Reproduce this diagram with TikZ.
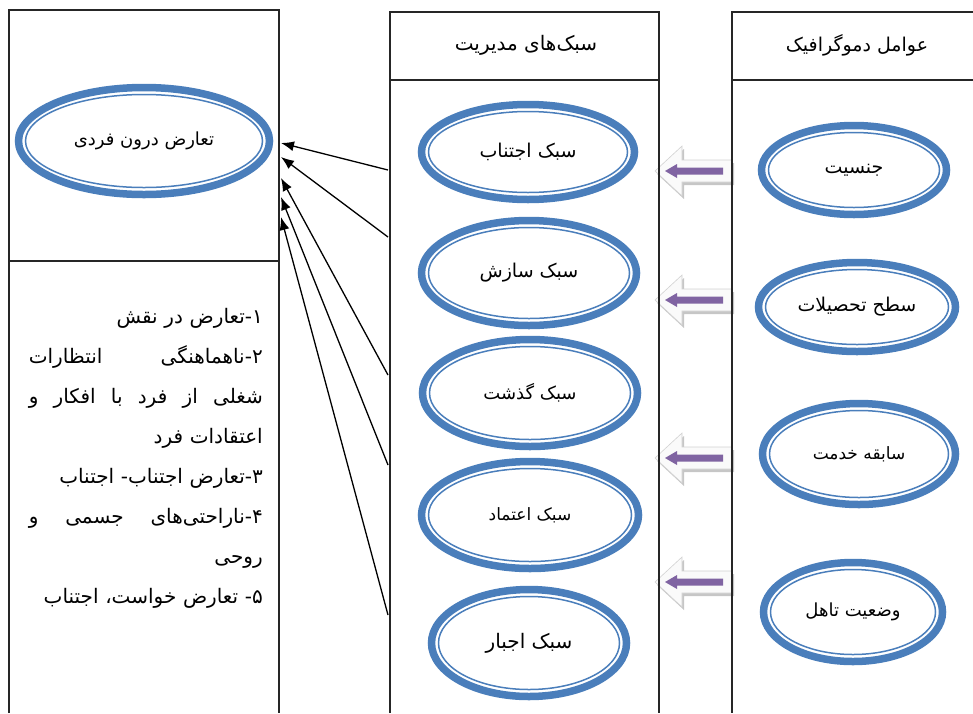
\documentclass[tikz,border=0pt]{standalone}
\usepackage{fontspec}
\newfontfamily\fa[Script=Arabic]{DejaVu Sans}
\TeXXeTstate=1
\usetikzlibrary{shapes.geometric,arrows.meta}
\definecolor{ovalblue}{HTML}{4A7EBB}
\definecolor{arrowpurple}{HTML}{8064A2}
\newcommand{\rtl}[1]{\beginR#1\endR}
\newcommand{\fs}[1]{\fa\fontsize{#1}{#1}\selectfont}
\tikzset{
	oval/.style 2 args={ellipse, draw=ovalblue, line width=7.5pt, inner sep=0pt,
		minimum width=#1pt, minimum height=#2pt, font=\fs{19},
		path picture={\draw[ovalblue, line width=1.5pt] (path picture bounding box.center)
			ellipse [x radius=#1pt/2-7pt, y radius=#2pt/2-7pt];}},
	colline/.style={line width=1.6pt, draw=black!85},
	head/.style={font=\fs{20}},
}
\begin{document}
\begin{tikzpicture}[x=1pt, y=-1pt, >={Latex[length=13pt,width=10pt]}]
	\useasboundingbox (0,0) rectangle (973,713);

	\foreach \y in {171,300,458,582}{
		\fill[gray!45, xshift=2pt, yshift=-3pt] (655,\y) -- (682,\y-25) -- (682,\y-11) -- (732,\y-11) -- (732,\y+11) -- (682,\y+11) -- (682,\y+25) -- cycle;
		\filldraw[fill=gray!4, draw=gray!35, line width=0.6pt] (655,\y) -- (682,\y-25) -- (682,\y-11) -- (732,\y-11) -- (732,\y+11) -- (682,\y+11) -- (682,\y+25) -- cycle;
		\fill[arrowpurple] (665,\y) -- (677,\y-7) -- (677,\y-3.5) -- (723,\y-3.5) -- (723,\y+3.5) -- (677,\y+3.5) -- (677,\y+7) -- cycle;
	}

	\draw[colline] (9,713) -- (9,10) -- (279,10) -- (279,713);
	\draw[colline] (9,261) -- (279,261);
	\draw[colline] (390,713) -- (390,12) -- (659,12) -- (659,713);
	\draw[colline] (390,80) -- (659,80);
	\draw[colline] (973,12) -- (732,12) -- (732,713);
	\draw[colline] (732,80) -- (973,80);

	\node[head] (mgmt) at (526,45) {\rtl{سبک‌های مدیریت}};
	\node[head, font=\fs{19}] (demo) at (857,45) {\rtl{عوامل دموگرافیک}};

	\node[oval={251}{107}, font=\fs{18}] (conflict) at (144,141) {\rtl{تعارض درون فردی}};

	\node[oval={213}{95}] (avoid) at (528,152) {\rtl{سبک اجتناب}};
	\node[oval={215}{105}] (compromise) at (529,273) {\rtl{سبک سازش}};
	\node[oval={215}{107}, font=\fs{18}] (forgive) at (530,393) {\rtl{سبک گذشت}};
	\node[oval={217}{107}, font=\fs{17}] (trust) at (530,515) {\rtl{سبک اعتماد}};
	\node[oval={195}{107}, font=\fs{20}] (force) at (529,643) {\rtl{سبک اجبار}};

	\node[oval={185}{89}] (gender) at (854,170) {\rtl{جنسیت}};
	\node[oval={197}{89}] (education) at (857,307) {\rtl{سطح تحصیلات}};
	\node[oval={193}{101}, font=\fs{17}] (service) at (859,454) {\rtl{سابقه خدمت}};
	\node[oval={179}{99}, font=\fs{18}] (marital) at (853,612) {\rtl{وضعیت تاهل}};

	\node[anchor=north east, inner sep=0pt, text width=234pt, align=right,
		font=\fa\fontsize{20}{40}\selectfont] (roles) at (263,308) {
		\rtl{۱-تعارض در نقش}\\
		\makebox[234pt]{\rtl{انتظارات}\hfill\rtl{۲-ناهماهنگی}}\\
		\makebox[234pt]{\rtl{و}\hfill\rtl{افکار}\hfill\rtl{با}\hfill\rtl{فرد}\hfill\rtl{از}\hfill\rtl{شغلی}}\\
		\rtl{اعتقادات فرد}\\
		\rtl{۳-تعارض اجتناب- اجتناب}\\
		\makebox[234pt]{\rtl{و}\hfill\rtl{جسمی}\hfill\rtl{۴-ناراحتی‌های}}\\
		\rtl{روحی}\\
		\rtl{۵- تعارض خواست، اجتناب}};

	\foreach \i/\a/\b in {1/170/143, 2/237/157, 3/375/178, 4/465/197, 5/615/217}{
		\coordinate (style\i) at (388,\a);
		\coordinate (goal\i) at (281,\b);
	}
	\foreach \i in {1,...,5}
		\draw[->, line width=1.3pt] (style\i) -- (goal\i);
\end{tikzpicture}
\end{document}
